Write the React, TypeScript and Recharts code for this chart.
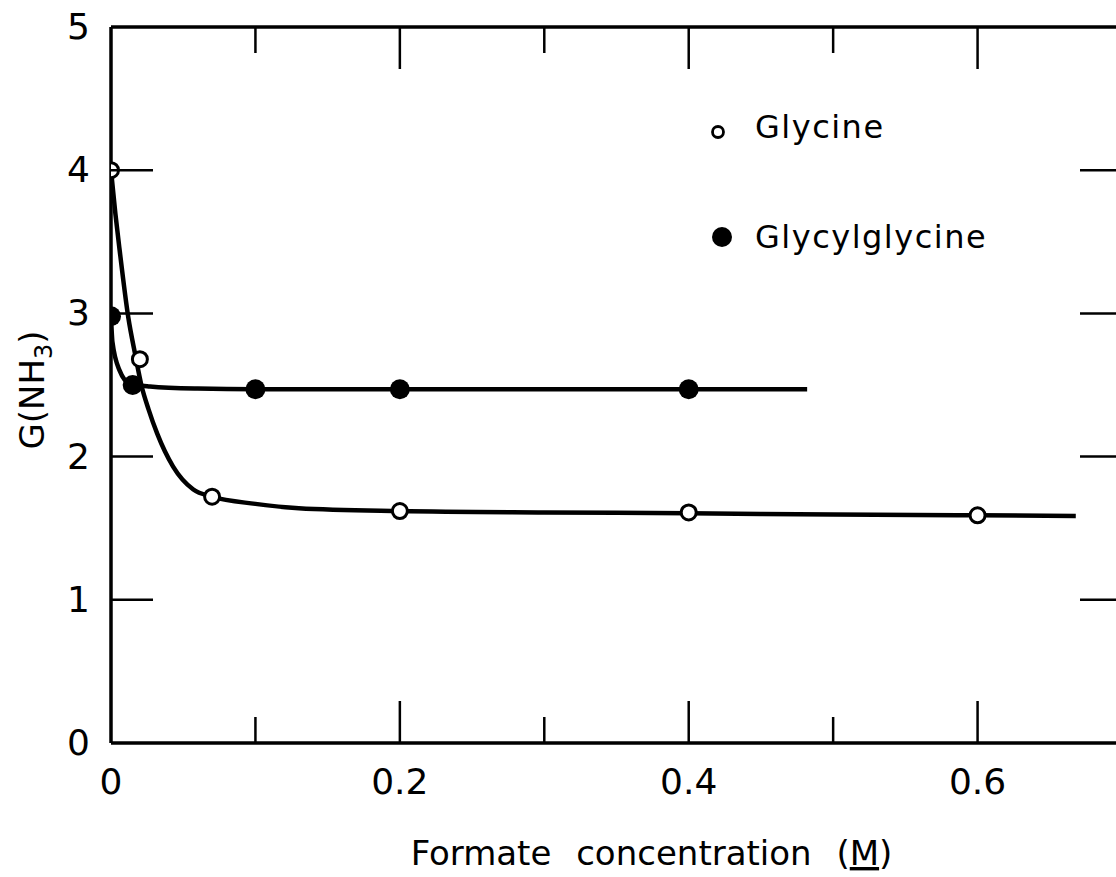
import React from 'react';
import { ComposedChart, Line, Scatter, XAxis, YAxis, Legend } from 'recharts';

const glycineConc = [0, 0.02, 0.07, 0.2, 0.4, 0.6];
const glycineG = [4.0, 2.68, 1.72, 1.62, 1.61, 1.59];
const glyglyConc = [0, 0.015, 0.1, 0.2, 0.4];
const glyglyG = [2.98, 2.5, 2.47, 2.47, 2.47];

// hand-drawn fitted curves
const glycineCurveConc = [0, 0.003, 0.006, 0.012, 0.017, 0.021, 0.026, 0.032, 0.043, 0.057, 0.07, 0.1, 0.13, 0.2, 0.3, 0.4, 0.5, 0.6, 0.668];
const glycineCurveG = [4.0, 3.7, 3.44, 2.97, 2.7, 2.5, 2.33, 2.16, 1.93, 1.77, 1.72, 1.67, 1.64, 1.62, 1.61, 1.605, 1.595, 1.59, 1.585];
const glyglyCurveConc = [0, 0.001, 0.006, 0.013, 0.027, 0.06, 0.1, 0.2, 0.4, 0.482];
const glyglyCurveG = [2.98, 2.8, 2.6, 2.51, 2.49, 2.475, 2.47, 2.47, 2.47, 2.47];

const xTicks = [0, 0.1, 0.2, 0.3, 0.4, 0.5, 0.6, 0.7];
const xLabelTicks = [0, 0.2, 0.4, 0.6];
const yTicks = [0, 1, 2, 3, 4, 5];

const zip = (xs: number[], ys: number[]) => xs.map((x, i) => ({ x, y: ys[i] }));

const glycinePts = zip(glycineConc, glycineG);
const glyglyPts = zip(glyglyConc, glyglyG);
const glycineCurve = zip(glycineCurveConc, glycineCurveG);
const glyglyCurve = zip(glyglyCurveConc, glyglyCurveG);

const font = '"DejaVu Sans", sans-serif';
const ink = '#000';

const isMajor = (v: number) => xLabelTicks.includes(v);
const tickLen = (v: number) => (isMajor(v) ? 42 : 26);

const BottomTick = (props: any) => {
    const { x, y, payload } = props;
    const v = payload.value;
    return (
        <g>
            {v > 0 && <line x1={x} x2={x} y1={y} y2={y - tickLen(v)} stroke={ink} strokeWidth={2.5} />}
            {isMajor(v) && (
                <text x={x} y={y + 51} textAnchor="middle" fontFamily={font} fontSize={36} fill={ink}>
                    {v === 0 ? '0' : String(v)}
                </text>
            )}
        </g>
    );
};

const TopTick = (props: any) => {
    const { x, y, payload } = props;
    const v = payload.value;
    if (v === 0) return <g />;
    return <line x1={x} x2={x} y1={y} y2={y + tickLen(v)} stroke={ink} strokeWidth={2.5} />;
};

const LeftTick = (props: any) => {
    const { x, y, payload } = props;
    const v = payload.value;
    return (
        <g>
            {v > 0 && v < 5 && <line x1={x} x2={x + 42} y1={y} y2={y} stroke={ink} strokeWidth={2.5} />}
            <text x={x - 21} y={y + 12} textAnchor="end" fontFamily={font} fontSize={36} fill={ink}>
                {v}
            </text>
        </g>
    );
};

const RightTick = (props: any) => {
    const { x, y, payload } = props;
    const v = payload.value;
    if (v <= 0 || v >= 5) return <g />;
    return <line x1={x} x2={x - 42} y1={y} y2={y} stroke={ink} strokeWidth={2.5} />;
};

const OpenDot = (props: any) => (
    <circle cx={props.cx} cy={props.cy} r={7.5} fill="#fff" stroke={ink} strokeWidth={3} />
);
const FilledDot = (props: any) => <circle cx={props.cx} cy={props.cy} r={10} fill={ink} />;

const LegendBox = () => (
    <svg width={320} height={170}>
        <circle cx={18} cy={32} r={5.5} fill="#fff" stroke={ink} strokeWidth={2.8} />
        <text x={55} y={38} fontFamily={font} fontSize={32} letterSpacing={1.5} fill={ink}>
            Glycine
        </text>
        <circle cx={22} cy={137} r={10} fill={ink} />
        <text x={55} y={148} fontFamily={font} fontSize={32} letterSpacing={1.5} fill={ink}>
            Glycylglycine
        </text>
    </svg>
);

const XLabel = (props: any) => {
    const { x, y, width } = props.viewBox;
    return (
        <text x={x + width / 2 + 35} y={y + 122} textAnchor="middle" fontFamily={font} fontSize={34} fill={ink} style={{ wordSpacing: 14 }}>
            Formate concentration (<tspan textDecoration="underline">M</tspan>)
        </text>
    );
};

const YLabel = (props: any) => {
    const { x, y, height } = props.viewBox;
    const cx = x + 44;
    const cy = y + height / 2 + 5;
    return (
        <text transform={`rotate(-90 ${cx} ${cy})`} x={cx} y={cy} textAnchor="middle" fontFamily={font} fontSize={34} fill={ink}>
            G(NH<tspan fontSize={24} dy={8}>3</tspan><tspan dy={-8}>)</tspan>
        </text>
    );
};

const App: React.FC = () => {
    return (
        <div style={{ position: 'absolute', left: 0, top: 0, width: 1116, height: 877, overflow: 'hidden', background: '#fff' }}>
            <ComposedChart width={1130} height={877} margin={{ top: 26, right: 7, bottom: 0, left: 0 }}>
                <XAxis
                    dataKey="x"
                    type="number"
                    domain={[0, 0.7]}
                    ticks={xTicks}
                    interval={0}
                    height={134}
                    tickSize={0}
                    tickMargin={0}
                    tickLine={false}
                    axisLine={{ stroke: ink, strokeWidth: 3.5 }}
                    tick={BottomTick}
                    label={{ content: XLabel }}
                    allowDataOverflow
                />
                <XAxis
                    xAxisId="top"
                    orientation="top"
                    dataKey="x"
                    type="number"
                    domain={[0, 0.7]}
                    ticks={xTicks}
                    interval={0}
                    height={1}
                    tickSize={0}
                    tickMargin={0}
                    tickLine={false}
                    axisLine={{ stroke: ink, strokeWidth: 3.5 }}
                    tick={TopTick}
                    allowDataOverflow
                />
                <YAxis
                    type="number"
                    domain={[0, 5]}
                    ticks={yTicks}
                    interval={0}
                    width={111}
                    tickSize={0}
                    tickMargin={0}
                    tickLine={false}
                    axisLine={{ stroke: ink, strokeWidth: 3.5 }}
                    tick={LeftTick}
                    label={{ content: YLabel }}
                    allowDataOverflow
                />
                <YAxis
                    yAxisId="right"
                    orientation="right"
                    type="number"
                    domain={[0, 5]}
                    ticks={yTicks}
                    interval={0}
                    width={1}
                    tickSize={0}
                    tickMargin={0}
                    tickLine={false}
                    axisLine={{ stroke: ink, strokeWidth: 3.5 }}
                    tick={RightTick}
                    allowDataOverflow
                />
                <Legend
                    layout="vertical"
                    align="center"
                    verticalAlign="middle"
                    wrapperStyle={{ left: 700, top: 100, width: 320 }}
                    content={LegendBox}
                />
                <Line data={glycineCurve} dataKey="y" type="monotone" stroke={ink} strokeWidth={4.5} dot={false} activeDot={false} isAnimationActive={false} legendType="none" />
                <Line data={glyglyCurve} dataKey="y" type="monotone" stroke={ink} strokeWidth={4.5} dot={false} activeDot={false} isAnimationActive={false} legendType="none" />
                <Scatter name="Glycine" data={glycinePts} dataKey="y" shape={OpenDot} isAnimationActive={false} />
                <Scatter name="Glycylglycine" data={glyglyPts} dataKey="y" shape={FilledDot} isAnimationActive={false} />
            </ComposedChart>
        </div>
    );
};

export default App;
